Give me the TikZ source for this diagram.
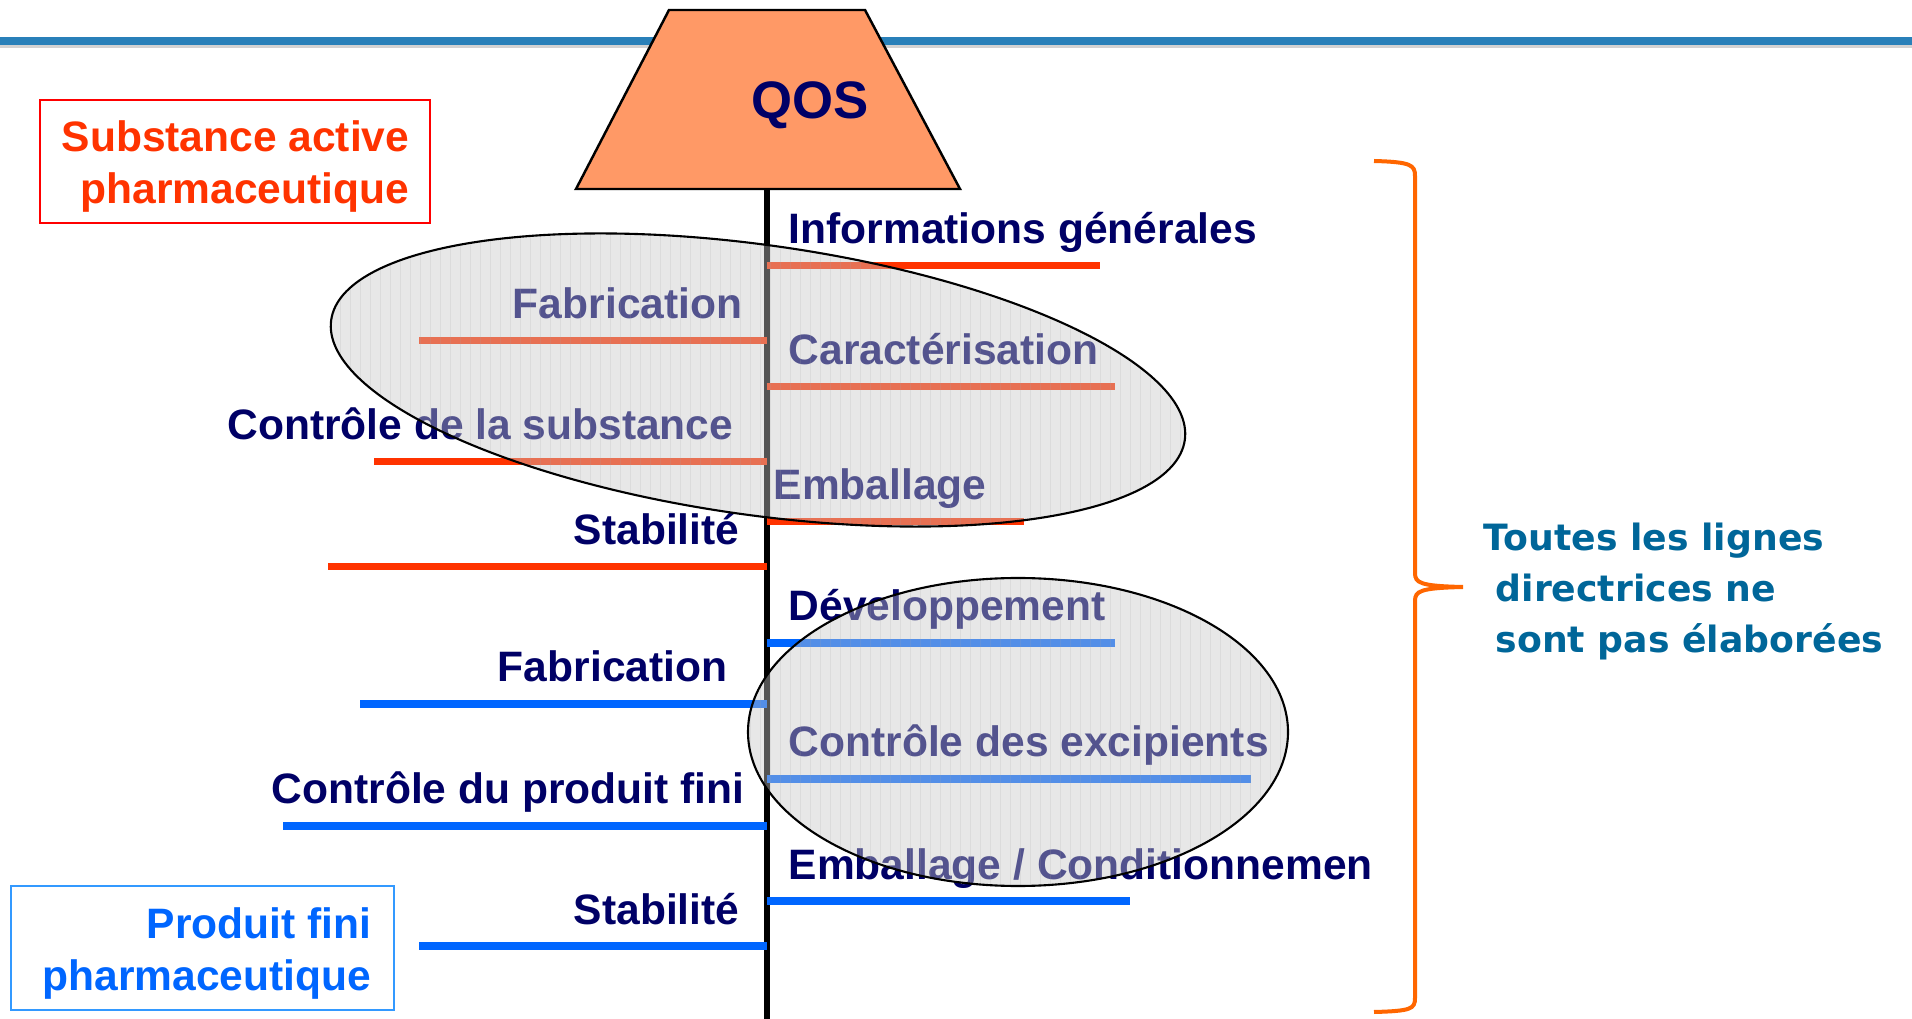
\documentclass[tikz,border=0pt]{standalone}
\usepackage{fontspec}
\setmainfont{Liberation Sans}
\newfontfamily\notefont{DejaVu Sans}
\definecolor{navy}{RGB}{0,0,102}
\definecolor{qosorange}{RGB}{255,153,102}
\definecolor{redbr}{RGB}{255,51,0}
\definecolor{bluebr}{RGB}{0,102,255}
\definecolor{barblue}{RGB}{41,128,185}
\definecolor{bracecol}{RGB}{255,102,0}
\definecolor{notecol}{RGB}{0,102,153}
\definecolor{boxblue}{RGB}{51,153,255}
\begin{document}
\begin{tikzpicture}[x=0.01cm,y=-0.01cm,
		itemtext/.style={font=\fontsize{12.1}{14}\selectfont\bfseries, text=navy, inner sep=0pt},
		redbranch/.style={draw=redbr, line width=0.07cm},
		bluebranch/.style={draw=bluebr, line width=0.07cm},
		bubblefill/.style={fill=gray!45, fill opacity=0.42},
		bubblegrid/.style={draw=gray!70, line width=0.25pt, opacity=0.18},
		boxtext/.style={anchor=east, inner sep=0pt, align=right, font=\fontsize{12.1}{14.8}\selectfont\bfseries}]
		\useasboundingbox (0,0) rectangle (1912,1019);
		% bandeau du haut
		\draw[gray!35, line width=0.03cm] (0,47) -- (1912,47);
		\draw[barblue, line width=0.08cm] (0,41) -- (1912,41);
		% QOS
		\draw[fill=qosorange, line width=0.7pt] (669,10) -- (865,10) -- (960,189) -- (576,189) -- cycle;
		\node[font=\fontsize{15}{18}\selectfont\bfseries, text=navy] (qos) at (810,105) {QOS};
		\draw[line width=0.065cm] (767,189) -- (767,1019);
		% substance active
		\draw[redbranch] (767,266) -- (1100,266);
		\node[itemtext, anchor=base west] (infos) at (788,244) {Informations générales};
		\draw[redbranch] (419,341) -- (767,341);
		\node[itemtext, anchor=base east] (fabsa) at (743,319) {Fabrication};
		\draw[redbranch] (767,387) -- (1115,387);
		\node[itemtext, anchor=base west] (carac) at (788,365) {Caractérisation};
		\draw[redbranch] (374,462) -- (767,462);
		\node[itemtext, anchor=base east] (ctrlsa) at (734,440) {Contrôle de la substance};
		\draw[redbranch] (767,522) -- (1024,522);
		\node[itemtext, anchor=base west] (embsa) at (773,500) {Emballage};
		\draw[redbranch] (328,567) -- (767,567);
		\node[itemtext, anchor=base east] (stabsa) at (740,545) {Stabilité};
		% produit fini
		\draw[bluebranch] (767,643) -- (1115,643);
		\node[itemtext, anchor=base west] (dev) at (788,621) {Développement};
		\draw[bluebranch] (360,704) -- (767,704);
		\node[itemtext, anchor=base east] (fabpf) at (728,682) {Fabrication};
		\draw[bluebranch] (767,779) -- (1251,779);
		\node[itemtext, anchor=base west] (excip) at (788,757) {Contrôle des excipients};
		\draw[bluebranch] (283,826) -- (767,826);
		\node[itemtext, anchor=base east] (ctrlpf) at (745,804) {Contrôle du produit fini};
		\draw[bluebranch] (767,901) -- (1130,901);
		\node[itemtext, anchor=base west] (embpf) at (788,879) {Emballage / Conditionnemen};
		\draw[bluebranch] (419,946) -- (767,946);
		\node[itemtext, anchor=base east] (stabpf) at (740,924) {Stabilité};
		% bulles
		\begin{scope}
			\clip[rotate around={-8:(758,380)}] (758,380) ellipse [x radius=431, y radius=135];
			\fill[bubblefill] (300,220) rectangle (1220,540);
			\draw[bubblegrid, step=10] (300,220) grid (1220,540);
		\end{scope}
		\draw[line width=0.6pt, rotate around={-8:(758,380)}] (758,380) ellipse [x radius=431, y radius=135];
		\begin{scope}
			\clip (1018,732) ellipse [x radius=270, y radius=154];
			\fill[bubblefill] (740,570) rectangle (1300,890);
			\draw[bubblegrid, step=10] (740,570) grid (1300,890);
		\end{scope}
		\draw[line width=0.6pt] (1018,732) ellipse [x radius=270, y radius=154];
		% cadres
		\draw[red, line width=0.7pt] (40,100) rectangle (430,223);
		\node[boxtext, text=redbr] (sa) at (410,166.5) {Substance active\\pharmaceutique};
		\draw[boxblue, line width=0.7pt] (11,886) rectangle (394,1010);
		\node[boxtext, text=bluebr] (pf) at (372,953.5) {Produit fini\\pharmaceutique};
		% accolade
		\draw[bracecol, line width=0.04cm] (1374,161) .. controls (1411,162) and (1415,165) .. (1415,176) -- (1415,573) .. controls (1415,583) and (1420,586) .. (1463,587) .. controls (1420,588) and (1415,591) .. (1415,601) -- (1415,998) .. controls (1415,1009) and (1411,1011) .. (1374,1012);
		\node[anchor=west, align=left, inner sep=0pt, text=notecol, font=\notefont\fontsize{10.3}{14.5}\selectfont\bfseries] (note) at (1483,592) {Toutes les lignes\\\hspace*{0.12cm}directrices ne\\\hspace*{0.12cm}sont pas élaborées};
	\end{tikzpicture}
\end{document}
